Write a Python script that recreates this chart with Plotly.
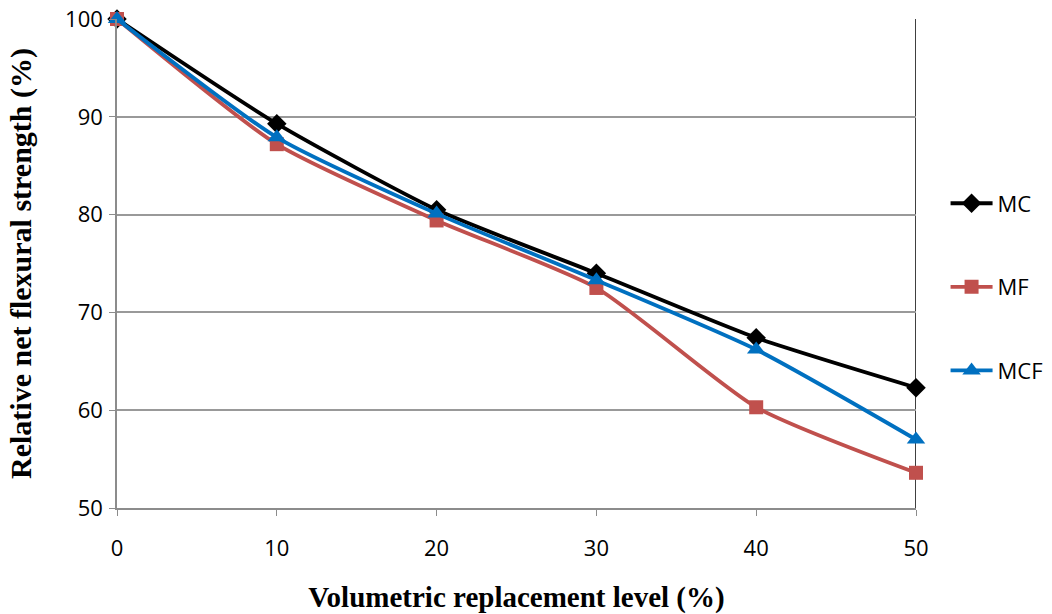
import plotly.graph_objects as go

levels = [0, 10, 20, 30, 40, 50]
mc = [100, 89.3, 80.5, 74.0, 67.4, 62.3]
mf = [100, 87.2, 79.4, 72.5, 60.3, 53.6]
mcf = [100, 87.9, 80.1, 73.3, 66.2, 57.0]

series = [
    ("MC", mc, "#000000", "diamond", 15),
    ("MF", mf, "#C0504D", "square", 14),
    ("MCF", mcf, "#0070C0", "triangle-up", 16),
]

fig = go.Figure()
for name, vals, color, symbol, size in series:
    fig.add_trace(go.Scatter(
        x=levels, y=vals, name=name, legendgroup=name, mode="lines+markers",
        line=dict(color=color, width=3.8, shape="spline", smoothing=0.6),
        marker=dict(symbol=symbol, size=size, color=color),
        cliponaxis=False,
    ))

fig.update_layout(
    width=1052, height=614,
    margin=dict(l=117, r=136, t=19, b=106, autoexpand=False),
    paper_bgcolor="white", plot_bgcolor="white",
    font=dict(family="Open Sans, Calibri, sans-serif", size=22, color="black"),
    legend=dict(x=1.037, y=0.452, xanchor="left", yanchor="middle",
                font=dict(size=22), tracegroupgap=52, itemwidth=42,
                bgcolor="rgba(0,0,0,0)", traceorder="grouped"),
    showlegend=True,
)
fig.update_xaxes(
    range=[0, 50], tickvals=levels, showgrid=False, zeroline=False,
    showline=True, linecolor="#8c8c8c", linewidth=1.5,
    ticks="outside", ticklen=6, tickcolor="#8c8c8c",
    ticklabelstandoff=14,
    automargin=False,
    title=dict(text="<b>Volumetric replacement level (%)</b>",
               font=dict(family="Liberation Serif, Times New Roman, serif", size=29),
               standoff=26),
    tickfont=dict(size=22),
)
fig.update_yaxes(
    range=[50, 100], dtick=10, showgrid=True, gridcolor="#999999", gridwidth=1.5,
    zeroline=False, showline=True, linecolor="#8c8c8c", linewidth=1.5,
    ticks="outside", ticklen=6, tickcolor="#8c8c8c",
    ticklabelstandoff=2,
    automargin=False,
    title=dict(text="<b>Relative net flexural strength (%)</b>",
               font=dict(family="Liberation Serif, Times New Roman, serif", size=30),
               standoff=25),
    tickfont=dict(size=22),
)
# right-hand frame edge of the plot area
fig.add_shape(type="line", xref="x", yref="paper", x0=50, x1=50, y0=0, y1=1,
              line=dict(color="black", width=1.5), layer="below")

fig.write_html("out.html")
